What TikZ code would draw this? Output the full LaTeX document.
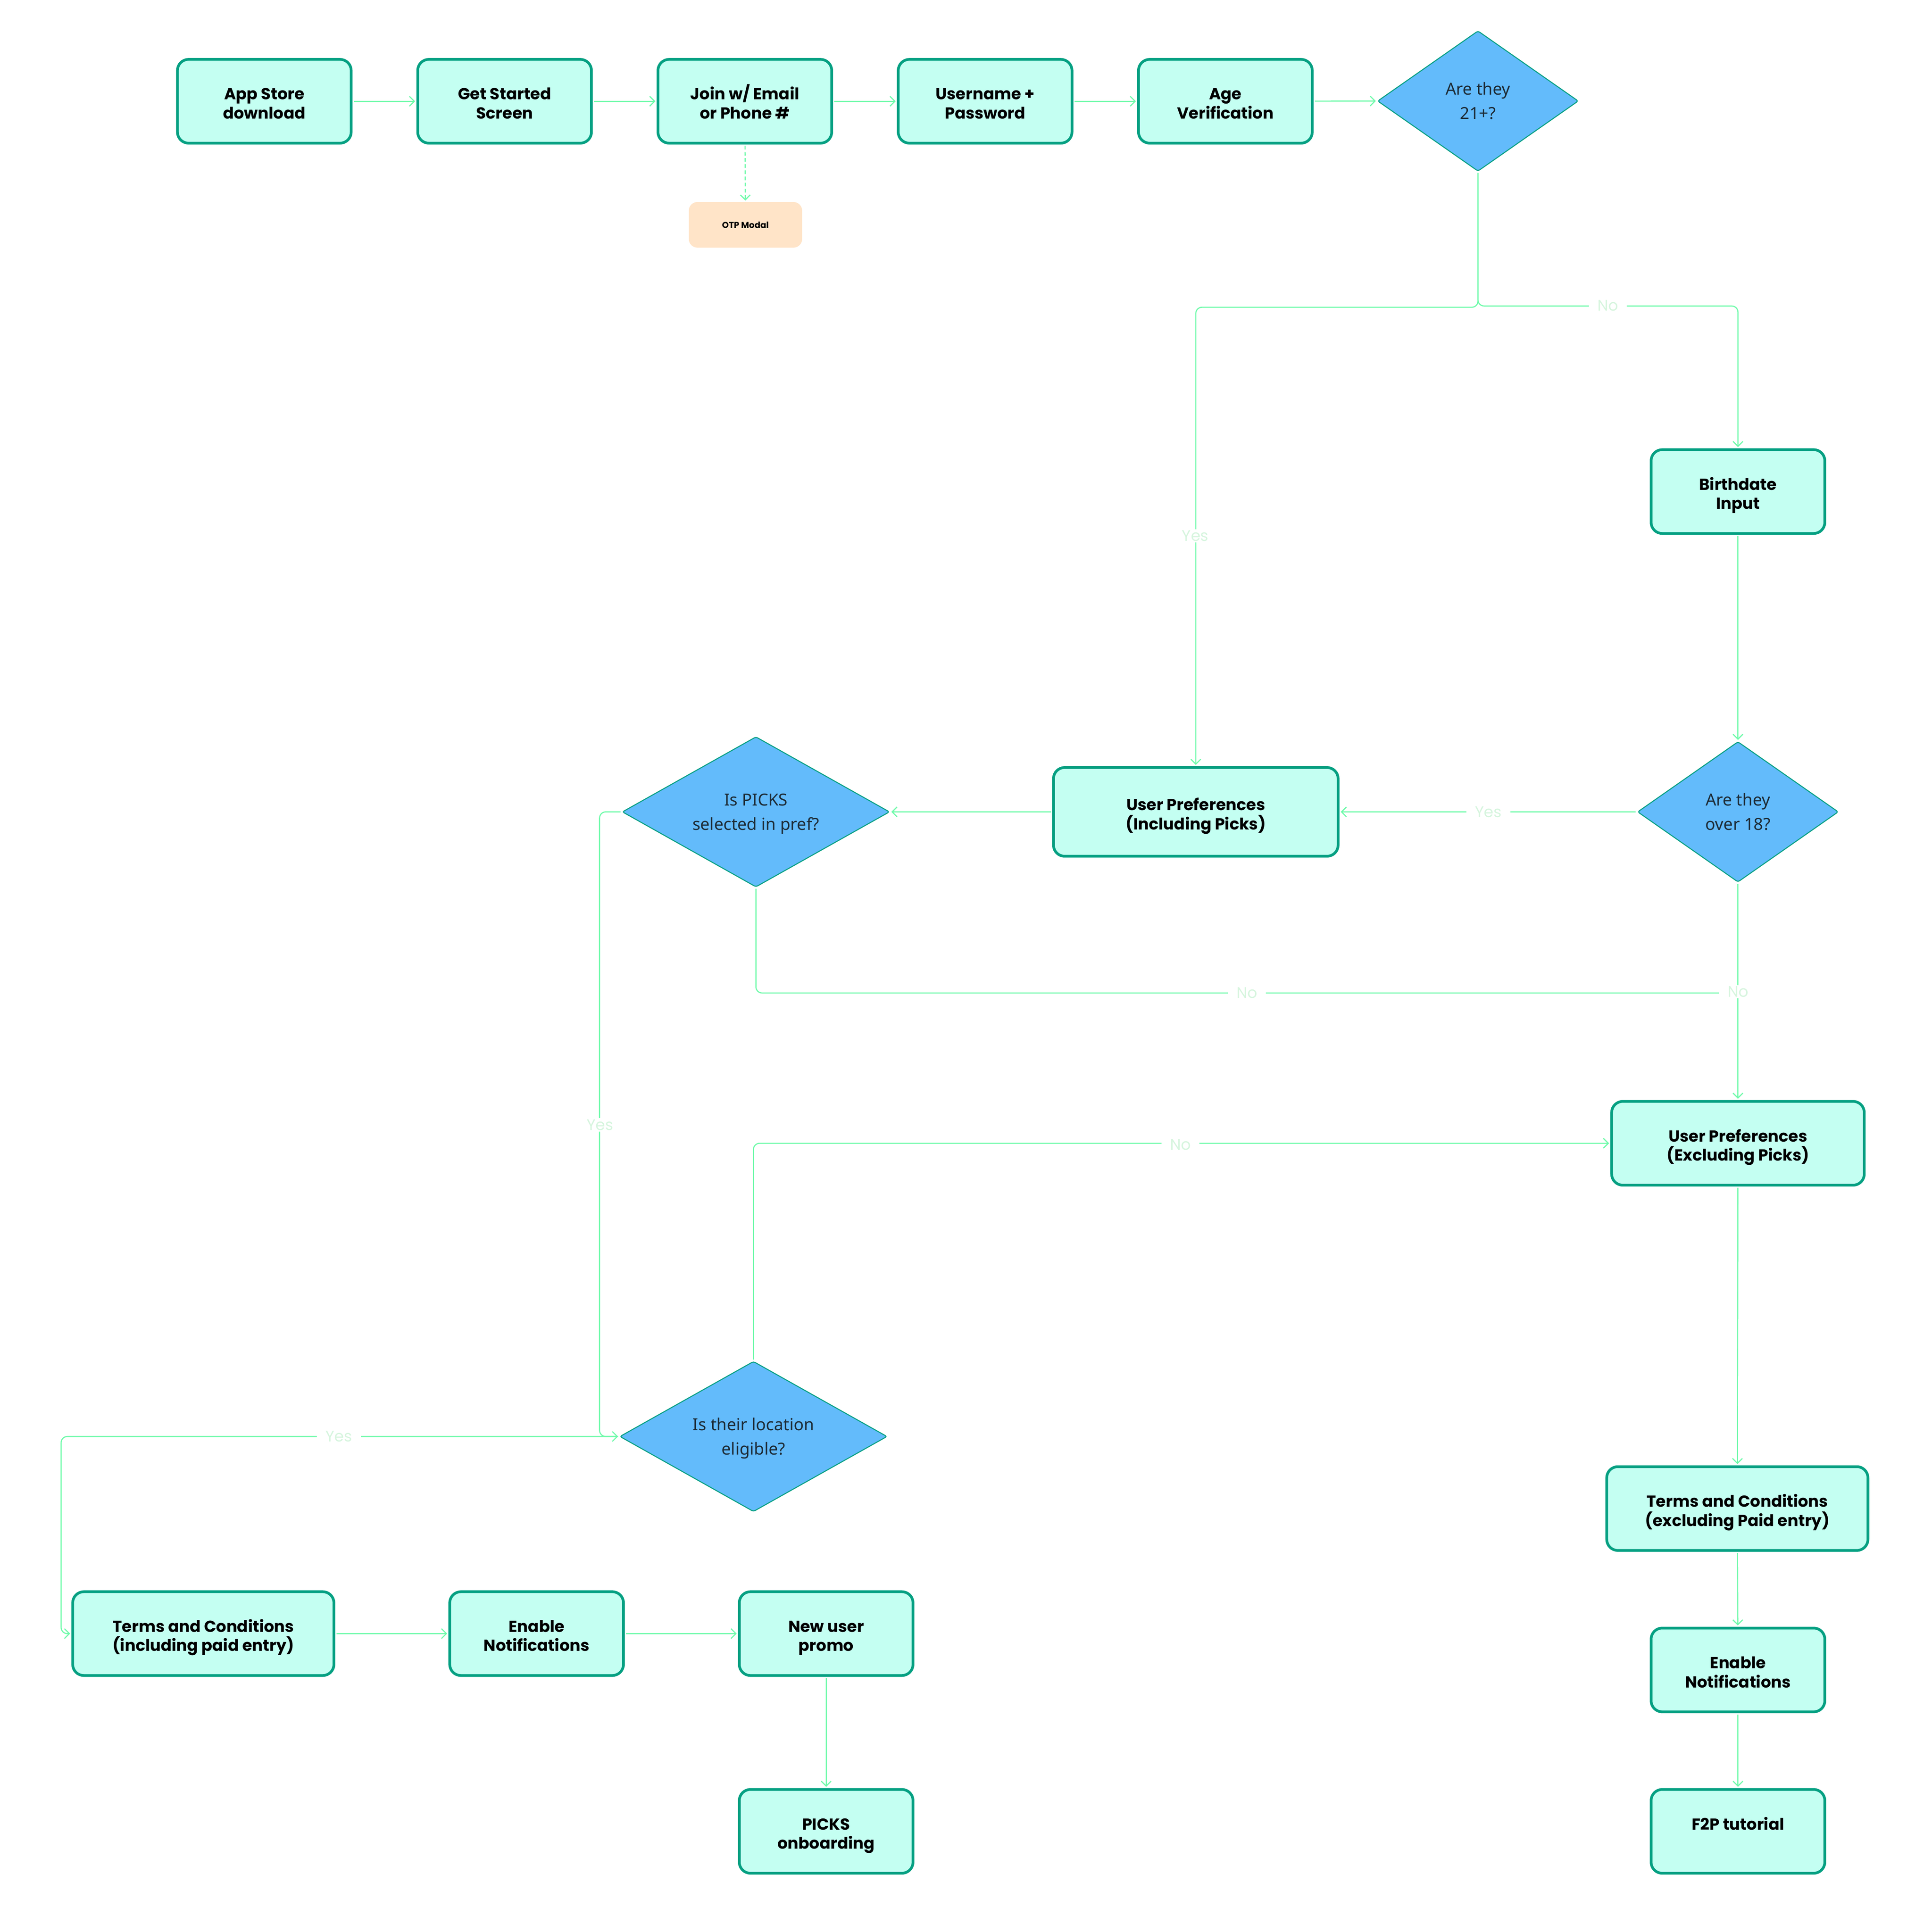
\documentclass[tikz,border=0pt]{standalone}
\usepackage{fontspec}
\setmainfont{Poppins}
\newfontfamily\diafont{Noto Sans}
\usetikzlibrary{shapes.geometric,arrows.meta,calc}
\definecolor{mint}{HTML}{C4FFF2}
\definecolor{tealb}{HTML}{05A082}
\definecolor{dblue}{HTML}{63BBFB}
\definecolor{lineg}{HTML}{6FFAAA}
\definecolor{labg}{HTML}{D6F5DE}
\definecolor{dtext}{HTML}{1D2B36}
\definecolor{peach}{HTML}{FFE4C8}
\begin{document}
\begin{tikzpicture}[x=1pt,y=-1pt,
  box/.style={draw=tealb, fill=mint, line width=2.2pt, rounded corners=9pt,
    minimum width=141pt, minimum height=68pt, align=center, inner sep=2pt,
    text height=32.6pt, text depth=4pt,
    font=\bfseries\fontsize{13}{15.6}\selectfont},
  dia/.style={diamond, aspect=1.6, draw=tealb, fill=dblue, line width=0.8pt, rounded corners=1.5pt,
    inner sep=0pt, align=center, text=dtext, text height=33.4pt, text depth=4pt,
    font=\diafont\fontsize{13.5}{19.6}\selectfont},
  otpbox/.style={fill=peach, rounded corners=7pt, minimum width=92pt, minimum height=37pt,
    font=\bfseries\fontsize{7}{8}\selectfont},
  conn/.style={draw=lineg, line width=0.9pt, rounded corners=5pt, shorten <=1pt, shorten >=1pt,
    -{Straight Barb[length=4pt,width=8pt,line width=0.9pt]}},
  plainline/.style={draw=lineg, line width=0.9pt, rounded corners=5pt, shorten <=1pt},
  lab/.style={fill=white, text=labg, inner xsep=7pt, inner ysep=1pt,
    font=\fontsize{12.5}{14}\selectfont}]
\useasboundingbox (0,0) rectangle (1568,1547.7);

% top row
\node[box] (app) at (214.5,82.2) {App Store\\download};
\node[box] (gs) at (409.5,82.2) {Get Started\\Screen};
\node[box] (join) at (604.5,82.2) {Join w/ Email\\or Phone \#};
\node[box] (user) at (799.5,82.2) {Username +\\Password};
\node[box] (age) at (994.5,82.2) {Age\\Verification};
\node[dia, minimum width=163pt, minimum height=114pt] (d21) at (1199.5,82) {Are they\\21+?};
\node[otpbox] (otp) at (605,182.5) {OTP Modal};

% right column
\node[box] (bd) at (1410.5,399) {Birthdate\\Input};
\node[dia, minimum width=163pt, minimum height=114pt] (d18) at (1410.5,659) {Are they\\over 18?};
\node[box, minimum width=205pt] (upe) at (1410.5,928) {User Preferences\\(Excluding Picks)};
\node[box, minimum width=212pt] (tce) at (1410,1224.5) {Terms and Conditions\\(excluding Paid entry)};
\node[box] (ene) at (1410.5,1355.5) {Enable\\Notifications};
\node[box, text height=4pt, text depth=6.4pt] (f2p) at (1410.5,1486.5) {F2P tutorial};

% middle
\node[box, minimum width=231pt, minimum height=72pt] (upi) at (970.5,659) {User Preferences\\(Including Picks)};
\node[dia, minimum width=217pt, minimum height=122pt] (dp) at (613.5,659) {Is PICKS\\selected in pref?};
\node[dia, minimum width=217pt, minimum height=122pt] (dl) at (611.5,1166) {Is their location\\eligible?};

% bottom left row
\node[box, minimum width=212pt] (tci) at (165,1326) {Terms and Conditions\\(including paid entry)};
\node[box] (eni) at (435.5,1326) {Enable\\Notifications};
\node[box] (nup) at (670.5,1326) {New user\\promo};
\node[box] (po) at (670.5,1486.5) {PICKS\\onboarding};

% connectors
\draw[conn] (app) -- (gs);
\draw[conn] (gs) -- (join);
\draw[conn] (join) -- (user);
\draw[conn] (user) -- (age);
\draw[conn] (age) -- (d21.west);
\draw[conn, dashed, dash pattern=on 3pt off 2pt] (join) -- (otp);

\draw[conn] (d21.south) -- ++(0,110) -| (upi.north);
\draw[conn] (d21.south) -- ++(0,109) -| (bd.north);
\draw[conn] (bd) -- (d18.north);
\draw[conn] (d18.west) -- (upi.east);
\draw[conn] (upi.west) -- (dp.east);
\draw[conn] (d18.south) -- (upe.north);
\coordinate (mjoin) at (1410.5,806);
\draw[plainline] (dp.south) |- (mjoin);
\draw[conn] (dp.west) -- ++(-18,0) |- (dl.west);
\draw[conn] (dl.north) |- (upe.west);
\draw[conn] (dl.west) -- ++(-453,0) |- (tci.west);
\draw[conn] (tci) -- (eni);
\draw[conn] (eni) -- (nup);
\draw[conn] (nup) -- (po);
\draw[conn] (upe) -- (tce);
\draw[conn] (tce) -- (ene);
\draw[conn] (ene) -- (f2p);

% labels
\node[lab] (lno1) at (1305,248) {No};
\node[lab] (lyes1) at (970,435) {Yes};
\node[lab] (lyes2) at (1208,659) {Yes};
\node[lab] (lno2) at (1410.5,805) {No};
\node[lab] (lno3) at (1012,806) {No};
\node[lab] (lyes3) at (487,913) {Yes};
\node[lab] (lno4) at (958,929) {No};
\node[lab] (lyes4) at (275,1166) {Yes};
\end{tikzpicture}
\end{document}
